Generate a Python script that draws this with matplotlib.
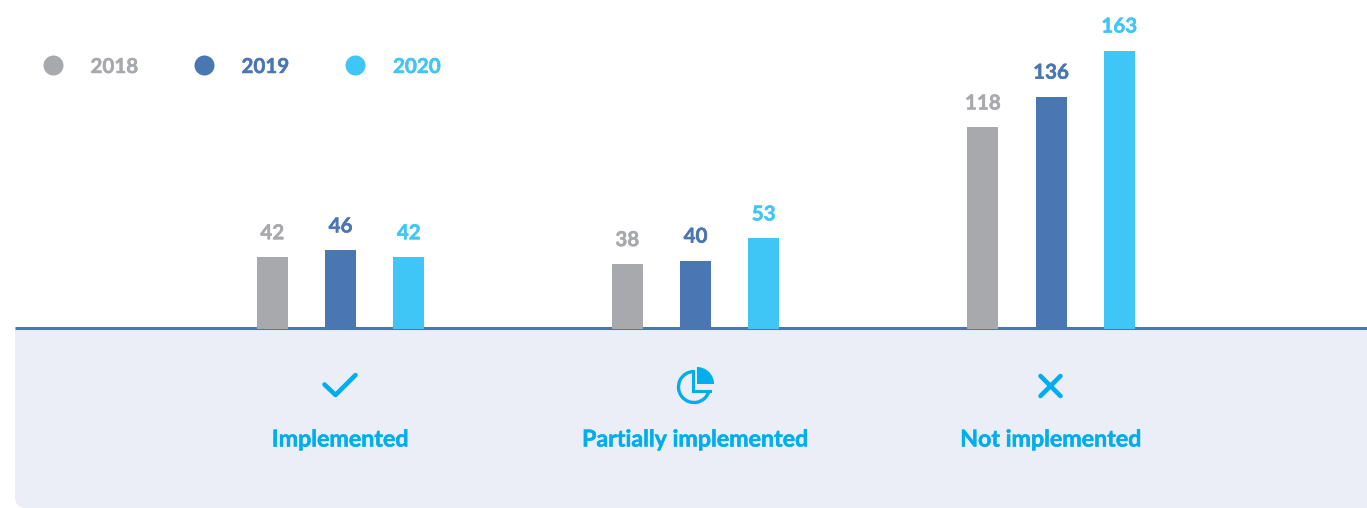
import matplotlib
matplotlib.use("Agg")
import matplotlib.pyplot as plt
import matplotlib.patheffects as pe
from matplotlib.patches import Wedge, Arc, PathPatch
from matplotlib.path import Path

categories = ["Implemented", "Partially implemented", "Not implemented"]
years = ["2018", "2019", "2020"]
v2018 = [42, 38, 118]
v2019 = [46, 40, 136]
v2020 = [42, 53, 163]

W, H = 1367, 508
GREY, BLUE, SKY, ICON = "#a8a9ad", "#4a76b1", "#40c6f6", "#00aeef"
PANEL = "#ebeef7"
plt.rcParams["font.family"] = ["Lato", "DejaVu Sans"]


def heavy(color):
    return [pe.withStroke(linewidth=0.35, foreground=color)]


fig = plt.figure(figsize=(W / 100, H / 100), dpi=100, facecolor="white")

# pixel-space decoration layer
px = fig.add_axes([0, 0, 1, 1])
px.set_xlim(0, W)
px.set_ylim(H, 0)
px.axis("off")

# panel with rounded bottom-left corner
r = 11
verts = [(15, 328), (W, 328), (W, H), (15 + r, H), (15, H), (15, H - r), (15, 328)]
codes = [Path.MOVETO, Path.LINETO, Path.LINETO, Path.LINETO, Path.CURVE3, Path.CURVE3, Path.CLOSEPOLY]
px.add_patch(PathPatch(Path(verts, codes), fc=PANEL, ec="none", zorder=1))

# legend
for x, tx, y_, c in zip([53, 204, 355], [90.5, 241.5, 393], years, [GREY, BLUE, SKY]):
    px.scatter([x], [65], s=(20 * 0.72) ** 2, color=c, linewidths=0, zorder=3)
    px.text(tx, 65, y_, color=c, fontsize=14.8, fontweight="bold", va="center_baseline", ha="left",
            path_effects=heavy(c))

# icons
# check
px.plot([324.5, 335.5, 355.5], [384.5, 395, 375], color=ICON, lw=3.3, solid_capstyle="round",
        solid_joinstyle="round", zorder=3)
# cross
px.plot([1040.5, 1060.5], [376, 396], color=ICON, lw=3.3, solid_capstyle="round", zorder=3)
px.plot([1040.5, 1060.5], [396, 376], color=ICON, lw=3.3, solid_capstyle="round", zorder=3)
# pie: y axis inverted, so angles are mirrored
px.add_patch(Arc((694, 387), 31, 31, theta1=15, theta2=270, color=ICON, lw=2.4, zorder=3))
px.plot([692.5, 692.5, 709.5], [371, 391, 391], color=ICON, lw=2.2, solid_joinstyle="miter", zorder=3)
px.add_patch(Wedge((697, 384), 17, 270, 360, fc=ICON, ec="none", zorder=3))

# bars
ax = fig.add_axes([0, 0, 1, 1], facecolor="none")
scale = 1.708  # pixels per unit
base = 329
ax.set_xlim(0, W)
ax.set_ylim(-(H - base) / scale, base / scale)
ax.axis("off")
centers = [340.5, 695.5, 1051]
offset = 68.25
for i, (vals, c) in enumerate(zip([v2018, v2019, v2020], [GREY, BLUE, SKY])):
    xs = [m + (i - 1) * offset for m in centers]
    ax.bar(xs, vals, width=31, color=c, linewidth=0, zorder=2)
    for x, v in zip(xs, vals):
        ax.annotate(str(v), (x, v), xytext=(0, 26 * 0.72), textcoords="offset points", ha="center",
                    va="center_baseline", color=c, fontsize=14.8, fontweight="bold",
                    path_effects=heavy(c))
px.plot([15, W], [328, 328], color=BLUE, lw=2.2, zorder=4, solid_capstyle="butt")

for m, name in zip([340, 695, 1050.5], categories):
    px.text(m, 438, name, color=ICON, fontsize=16.7, fontweight="bold", ha="center",
            va="center_baseline", path_effects=heavy(ICON))

fig.savefig("out.png", dpi=100)
